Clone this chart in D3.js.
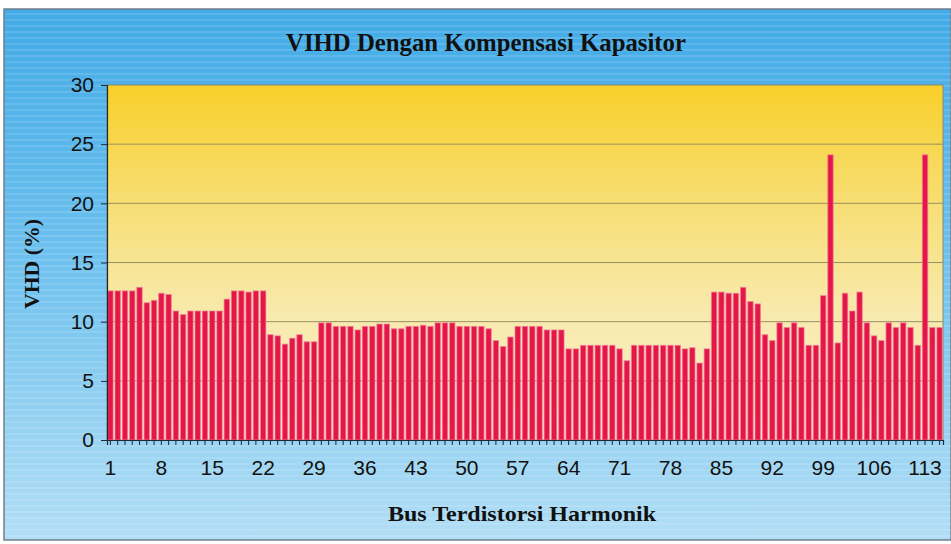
<!DOCTYPE html>
<html>
<head>
<meta charset="utf-8">
<script src="https://cdn.jsdelivr.net/npm/d3@7"></script>
<style>
  body { margin: 0; background: #fff; }
  svg { display: block; }
</style>
</head>
<body>
<div id="chart"></div>
<script>
// VHD per bus (%)
var vhd = [
    12.6, 12.6, 12.6, 12.6, 12.9, 11.6, 11.8, 12.4, 12.3, 10.9,
    10.6, 10.9, 10.9, 10.9, 10.9, 10.9, 11.9, 12.6, 12.6, 12.5,
    12.6, 12.6, 8.9, 8.8, 8.1, 8.6, 8.9, 8.3, 8.3, 9.9,
    9.9, 9.6, 9.6, 9.6, 9.3, 9.6, 9.6, 9.8, 9.8, 9.4,
    9.4, 9.6, 9.6, 9.7, 9.6, 9.9, 9.9, 9.9, 9.6, 9.6,
    9.6, 9.6, 9.4, 8.4, 7.9, 8.7, 9.6, 9.6, 9.6, 9.6,
    9.3, 9.3, 9.3, 7.7, 7.7, 8.0, 8.0, 8.0, 8.0, 8.0,
    7.7, 6.7, 8.0, 8.0, 8.0, 8.0, 8.0, 8.0, 8.0, 7.7,
    7.8, 6.5, 7.7, 12.5, 12.5, 12.4, 12.4, 12.9, 11.7, 11.5,
    8.9, 8.4, 9.9, 9.5, 9.9, 9.5, 8.0, 8.0, 12.2, 24.1,
    8.2, 12.4, 10.9, 12.5, 9.9, 8.8, 8.4, 9.9, 9.5, 9.9,
    9.5, 8.0, 24.1, 9.5, 9.5
];
var buses = d3.range(1, vhd.length + 1);
var busLabels = [1, 8, 15, 22, 29, 36, 43, 50, 57, 64, 71, 78, 85, 92, 99, 106, 113];
var yTicks = [0, 5, 10, 15, 20, 25, 30];

var title = "VIHD Dengan Kompensasi Kapasitor";
var xTitle = "Bus Terdistorsi Harmonik";
var yTitle = "VHD (%)";

var width = 951;
var height = 544;
var plot = { left: 107, right: 943, top: 85, bottom: 440 };

var svg = d3.select("#chart")
    .append("svg")
    .attr("width", width)
    .attr("height", height);

var defs = svg.append("defs");

var bgGrad = defs.append("linearGradient")
    .attr("id", "bg")
    .attr("x1", 0).attr("y1", 0).attr("x2", 0).attr("y2", 1);
bgGrad.append("stop").attr("offset", "0%").attr("stop-color", "#42aae6");
bgGrad.append("stop").attr("offset", "45%").attr("stop-color", "#6cc0ee");
bgGrad.append("stop").attr("offset", "100%").attr("stop-color", "#b2def5");

var plotGrad = defs.append("linearGradient")
    .attr("id", "plotbg")
    .attr("x1", 0).attr("y1", 0).attr("x2", 0).attr("y2", 1);
plotGrad.append("stop").attr("offset", "0%").attr("stop-color", "#f8cf2a");
plotGrad.append("stop").attr("offset", "35%").attr("stop-color", "#f7df78");
plotGrad.append("stop").attr("offset", "65%").attr("stop-color", "#f8eaae");
plotGrad.append("stop").attr("offset", "100%").attr("stop-color", "#f8efc8");

// outer panel
svg.append("rect")
    .attr("x", 0).attr("y", 0)
    .attr("width", width).attr("height", height)
    .attr("fill", "#fff");

svg.append("rect")
    .attr("x", 4).attr("y", 9)
    .attr("width", width - 4).attr("height", height - 13)
    .attr("fill", "url(#bg)")
    .attr("stroke", "#6f7f8c")
    .attr("stroke-width", 1.5);

// faint horizontal streaks of the printed background
svg.append("g")
    .selectAll("line")
    .data(d3.range(14, height - 6, 6))
    .join("line")
    .attr("x1", 5).attr("x2", width)
    .attr("y1", d => d).attr("y2", d => d)
    .attr("stroke", "#ffffff")
    .attr("stroke-opacity", 0.12)
    .attr("stroke-width", 2);

var x = d3.scaleBand()
    .domain(buses)
    .range([plot.left, plot.right])
    .paddingInner(0.26)
    .paddingOuter(0.1);

var y = d3.scaleLinear()
    .domain([0, 30])
    .range([plot.bottom, plot.top]);

svg.append("rect")
    .attr("x", plot.left).attr("y", plot.top)
    .attr("width", plot.right - plot.left)
    .attr("height", plot.bottom - plot.top)
    .attr("fill", "url(#plotbg)")
    .attr("stroke", "#8c8a6a")
    .attr("stroke-width", 1);

// gridlines
svg.append("g")
    .selectAll("line")
    .data(yTicks.filter(d => d > 0 && d < 30))
    .join("line")
    .attr("x1", plot.left).attr("x2", plot.right)
    .attr("y1", d => y(d)).attr("y2", d => y(d))
    .attr("stroke", "#9a8f62")
    .attr("stroke-width", 1);

// bars
svg.append("g")
    .selectAll("rect")
    .data(vhd)
    .join("rect")
    .attr("x", (d, i) => x(buses[i]))
    .attr("y", d => y(d))
    .attr("width", x.bandwidth())
    .attr("height", d => y(0) - y(d))
    .attr("fill", "#e5174a")
    .attr("stroke", "#f27c98")
    .attr("stroke-opacity", 0.7)
    .attr("stroke-width", 1);

var tickFont = "'Liberation Sans', Arial, sans-serif";

// y axis
var yAxis = svg.append("g")
    .attr("transform", "translate(" + plot.left + ",0)")
    .call(d3.axisLeft(y).tickValues(yTicks).tickSize(6).tickPadding(7));
yAxis.select(".domain").attr("stroke", "#1a2a3a").attr("stroke-width", 1.2);
yAxis.selectAll(".tick line").attr("stroke", "#1a2a3a");
yAxis.selectAll("text")
    .attr("font-family", tickFont)
    .attr("font-size", 21)
    .attr("fill", "#111");

// x axis: a small tick under every bus
var xMinor = svg.append("g")
    .attr("transform", "translate(0," + plot.bottom + ")")
    .call(d3.axisBottom(x).tickSize(5).tickFormat(""));
xMinor.select(".domain").attr("stroke", "#1a2a3a").attr("stroke-width", 1.2);
xMinor.selectAll(".tick line").attr("stroke", "#1a2a3a");

var xLabels = svg.append("g")
    .attr("transform", "translate(0," + plot.bottom + ")")
    .call(d3.axisBottom(x).tickValues(busLabels).tickSize(0).tickPadding(20));
xLabels.select(".domain").remove();
xLabels.selectAll("text")
    .attr("font-family", tickFont)
    .attr("font-size", 21)
    .attr("fill", "#111");

// titles
var serif = "'Liberation Serif', 'Times New Roman', serif";

svg.append("text")
    .text(title)
    .attr("x", 486)
    .attr("y", 51)
    .attr("text-anchor", "middle")
    .attr("textLength", 400)
    .attr("lengthAdjust", "spacingAndGlyphs")
    .attr("font-family", serif)
    .attr("font-weight", "bold")
    .attr("font-size", 25)
    .attr("fill", "#111");

svg.append("text")
    .text(xTitle)
    .attr("x", 522)
    .attr("y", 521)
    .attr("text-anchor", "middle")
    .attr("textLength", 268)
    .attr("lengthAdjust", "spacingAndGlyphs")
    .attr("font-family", serif)
    .attr("font-weight", "bold")
    .attr("font-size", 22)
    .attr("fill", "#111");

svg.append("text")
    .text(yTitle)
    .attr("transform", "translate(39,264) rotate(-90)")
    .attr("text-anchor", "middle")
    .attr("textLength", 90)
    .attr("lengthAdjust", "spacingAndGlyphs")
    .attr("font-family", serif)
    .attr("font-weight", "bold")
    .attr("font-size", 21)
    .attr("fill", "#111");
</script>
</body>
</html>
